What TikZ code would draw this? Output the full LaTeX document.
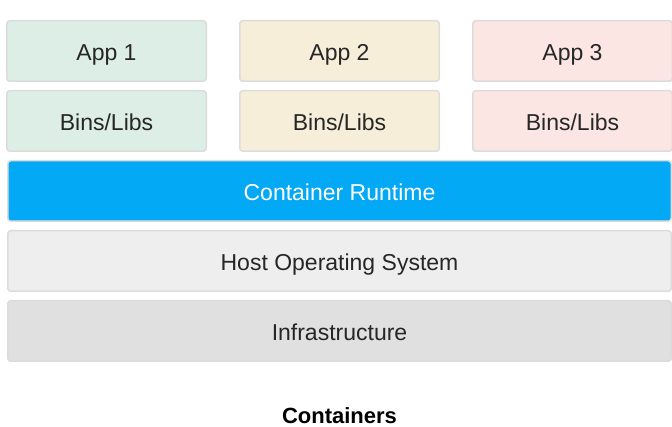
\documentclass[tikz,border=0pt]{standalone}
\usepackage{fontspec}
\setmainfont{Liberation Sans}
\usepackage{xcolor}
\usetikzlibrary{positioning}
\definecolor{appone}{HTML}{DDEEE6}
\definecolor{apptwo}{HTML}{F7EEDA}
\definecolor{appthree}{HTML}{FBE6E4}
\definecolor{runtime}{HTML}{03A9F4}
\definecolor{hostos}{HTML}{EEEEEE}
\definecolor{infra}{HTML}{E0E0E0}
\definecolor{edge}{HTML}{DCDCDC}
\definecolor{ink}{HTML}{262626}
\tikzset{
block/.style={
  draw=edge,
  line width=1.5pt,
  rounded corners=3pt,
  rectangle,
  align=center,
  text=ink,
  inner sep=0pt,
  text height=20pt,
  text depth=0pt,
  font=\fontsize{23}{28}\selectfont,
  minimum width=199.5pt,
  minimum height=60.5pt
  },
layer/.style={
  block,
  minimum width=663.5pt
  },
caption/.style={
  inner sep=0pt,
  text=black,
  font=\fontsize{22}{26}\selectfont\bfseries
  }
}

\begin{document}
\begin{tikzpicture}[x=1pt,y=1pt]
\useasboundingbox (0,0) rectangle (672,-427);
\node[block, fill=appone](app1) at (106.5,-51){App 1};
\node[block, fill=apptwo, right=32pt of app1](app2){App 2};
\node[block, fill=appthree, right=32pt of app2](app3){App 3};
\node[block, fill=appone, below=8pt of app1](bins1){Bins/Libs};
\node[block, fill=apptwo, below=8pt of app2](bins2){Bins/Libs};
\node[block, fill=appthree, below=8pt of app3](bins3){Bins/Libs};
\node[layer, fill=runtime, text=white, below=8pt of bins2](rt){Container Runtime};
\node[layer, fill=hostos, below=8pt of rt](os){Host Operating System};
\node[layer, fill=infra, below=8pt of os](infra){Infrastructure};
\node[caption, below=45pt of infra](cap){Containers};
\end{tikzpicture}
\end{document}
